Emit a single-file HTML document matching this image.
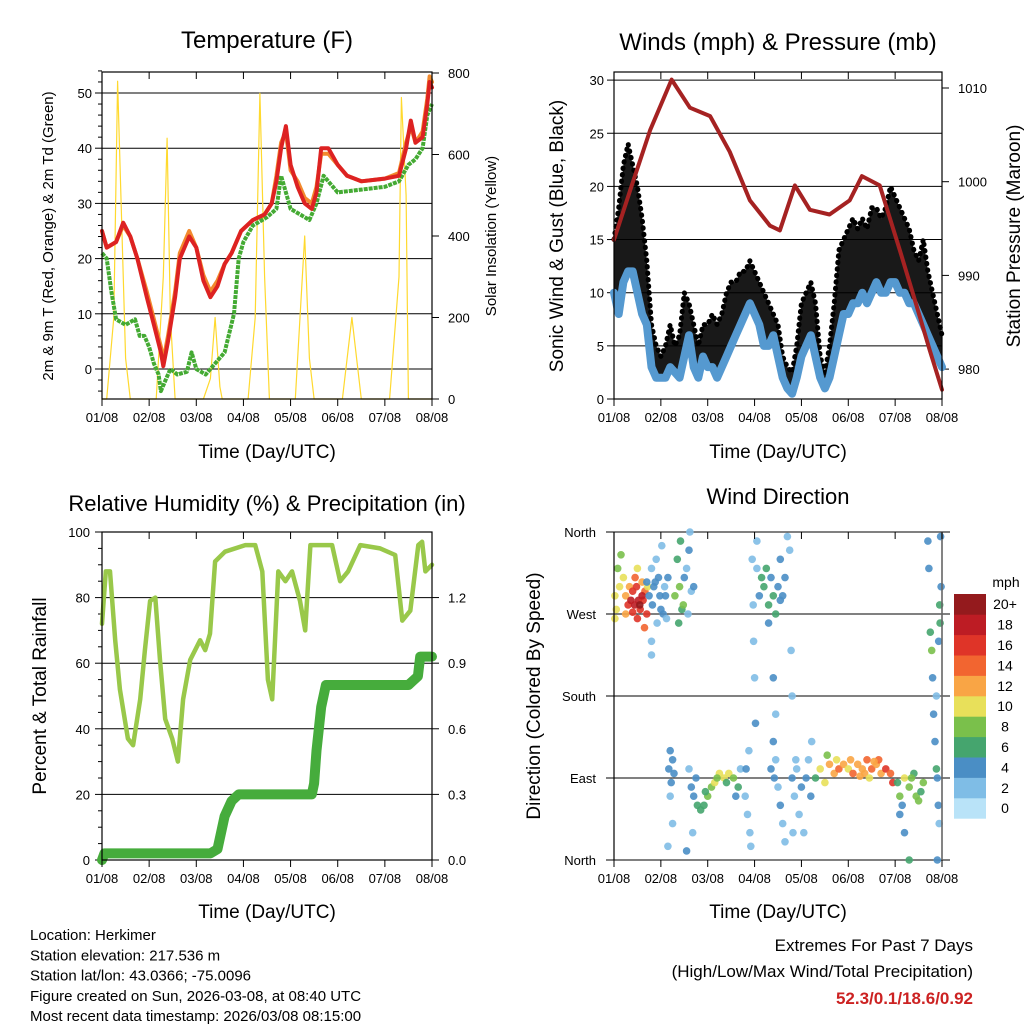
<!DOCTYPE html>
<html><head><meta charset="utf-8"><style>
body{margin:0;background:#fff}
svg{display:block;font-family:"Liberation Sans",sans-serif}
</style></head><body>
<svg id="c" width="1024" height="1024" viewBox="0 0 1024 1024" xmlns="http://www.w3.org/2000/svg"></svg>
<script>
// ---- Temperature panel data ----
const tempT=[0,0.1,0.3,0.45,0.6,0.75,0.95,1.1,1.25,1.3,1.4,1.55,1.65,1.85,2.0,2.15,2.3,2.45,2.6,2.75,2.95,3.2,3.45,3.6,3.7,3.8,3.9,4.0,4.15,4.3,4.45,4.55,4.65,4.8,5.0,5.2,5.5,6.0,6.3,6.45,6.55,6.65,6.8,6.9,6.95,7.0];
const tempRed=[25,22,23,26.5,24,20,13,8,3,0.5,5,13,20,24,22,16,13,15,19,21,25,27,28,30,34,40,44,37,33,30,29,32,40,40,37,35,34,34.5,35,40,45,41,42,48,52,51];
const tempOrange=[25,22,23,26,24,20,14,9,4,1.5,6,14,21,25,22,17,14,16,19,21,25,27,28,30,35,41,43,36,34,31,30,33,39,39,37,35,34,34.5,35.5,41,44,41,43,49,53,52];
const dewT=[0,0.1,0.2,0.3,0.5,0.7,0.8,0.9,1.0,1.1,1.2,1.25,1.35,1.45,1.6,1.8,1.9,2.0,2.2,2.4,2.6,2.8,2.9,3.0,3.2,3.5,3.7,3.8,3.9,4.0,4.2,4.4,4.55,4.7,5.0,5.5,6.0,6.3,6.5,6.65,6.8,6.9,7.0];
const dewV=[21,20,14,9,8,9,6,6,4,1,-1,-4,-2,0,-1,-0.5,3,0,-1,1,3,10,20,23,26,27.5,29,35,32,29,28,27,30,35,32,32.5,33,34,37,38,40,46,48];
const solarT=[0,0.1,0.25,0.33,0.4,0.5,0.6,1.15,1.3,1.38,1.45,1.55,2.15,2.3,2.4,2.5,2.55,3.1,3.25,3.35,3.45,3.55,4.1,4.3,4.4,4.5,5.1,5.3,5.4,5.5,6.1,6.3,6.35,6.45,6.5,7.0];
const solarV=[0,0,200,780,500,100,0,0,300,640,200,0,0,50,200,30,0,0,200,750,300,0,0,400,100,0,0,200,100,0,0,300,740,500,0,0];
const dayLabels=["01/08","02/08","03/08","04/08","05/08","06/08","07/08","08/08"];
const tempTicks=[0,10,20,30,40,50];
const solarTicks=[0,200,400,600,800];
// ---- Wind panel data ----
const windT=[0,0.1,0.2,0.3,0.4,0.5,0.6,0.7,0.8,0.9,1.0,1.1,1.2,1.3,1.4,1.5,1.6,1.7,1.8,1.9,2.0,2.1,2.2,2.3,2.4,2.5,2.6,2.7,2.8,2.9,3.0,3.1,3.2,3.3,3.4,3.5,3.6,3.7,3.8,3.9,4.0,4.1,4.2,4.3,4.4,4.5,4.6,4.7,4.8,4.9,5.0,5.1,5.2,5.3,5.4,5.5,5.6,5.7,5.8,5.9,6.0,6.1,6.2,6.3,6.4,6.5,6.6,6.7,6.8,6.9,7.0];
const windSpd=[10,8,11,12,12,10,8,7,3,2,2,2,3,2.5,2,4,6,3,2,4,3,3,2,3,4,5,6,7,8,9,8,7,5,5,6,4,2,1,0.5,2,4,5,6,4,2,1,2,4,6,8,8,9,9,10,9,10,11,10,10,11,11,10,10,9,9,8,7,6,5,4,3];
const windGust=[15,18,22,24,22,20,17,13,7,5,4,5,7,5,6,10,9,7,5,7,7,8,7,8,10,11,11,12,12,13,12,11,10,9,8,7,4,3,2.5,5,9,10,11,9,4,2.5,5,9,14,15,16,17,16,17,16,18,18,17,18,20,19,18,17,16,14,13,15,12,10,8,6];
const presT=[0,0.34,0.77,1.23,1.62,2.05,2.47,2.9,3.33,3.54,3.86,4.18,4.6,5.03,5.29,5.67,6.1,6.42,6.74,7.0];
const presV=[993.8,999,1005.5,1010.9,1007.9,1007,1003.2,998,995.3,994.8,999.6,997,996.5,998,1000.6,999.6,992.7,987.4,982,977.8];
const windTicks=[0,5,10,15,20,25,30];
const presTicks=[980,990,1000,1010];
// ---- RH / precip data ----
const rhT=[0,0.08,0.17,0.28,0.38,0.55,0.66,0.81,0.91,1.02,1.13,1.23,1.34,1.49,1.61,1.72,1.87,2.08,2.19,2.29,2.4,2.61,3.04,3.25,3.4,3.52,3.61,3.74,3.89,4.03,4.2,4.31,4.42,4.63,4.88,5.05,5.22,5.48,5.9,6.22,6.37,6.54,6.71,6.79,6.86,7.0];
const rhV=[72,88,88,67,52,37,35,49,64,79,80,61,43,37,30,49,61,67,64,69,91,94,96,96,88,55,49,88,85,88,79,70,96,96,96,85,88,96,95,93,73,76,96,97,88,90];
const precT=[0,0.05,2.3,2.45,2.6,2.75,2.9,4.45,4.5,4.55,4.65,4.75,6.5,6.6,6.7,6.75,7.0];
const precV=[0,0.03,0.03,0.05,0.2,0.27,0.3,0.3,0.35,0.5,0.7,0.8,0.8,0.82,0.84,0.93,0.93];
const rhTicks=[0,20,40,60,80,100];
const precTicks=[0,0.3,0.6,0.9,1.2];
// ---- wind direction data: [day, degrees, mph] ----
const dirObs=[[0.02,290,9],[0.05,275,10],[0.08,320,8],[0.12,300,9],[0.15,335,8],[0.2,310,10],[0.25,290,12],[0.3,280,15],[0.33,300,12],[0.36,285,17],[0.4,295,16],[0.44,280,18],[0.48,300,15],[0.52,285,17],[0.56,275,16],[0.6,305,12],[0.62,285,16],[0.66,295,13],[0.7,270,15],[0.72,300,10],[0.02,265,10],[0.45,310,14],[0.5,320,10],[0.25,270,12],[0.55,280,19],[0.5,265,16],[0.6,290,18],[0.4,272,16],[0.65,255,14],
[0.7,305,4],[0.75,290,3],[0.8,320,2],[0.82,280,3],[0.85,300,4],[0.9,330,2],[0.92,260,2],[0.95,310,3],[0.98,290,4],[0.8,240,1],[0.8,225,1],[1.02,345,2],[1.05,270,3],[1.08,300,2],[1.12,265,2],[1.15,310,3],[0.88,305,4],[1.0,275,3],[1.1,290,4],
[1.3,290,7],[1.35,330,6],[1.4,300,7],[1.42,350,6],[1.45,275,6],[1.5,310,4],[1.55,320,2],[1.6,340,3],[1.65,295,2],[1.62,360,1],[1.38,260,6],[1.48,280,8],[1.58,270,2],[1.7,300,3],
[1.17,100,4],[1.2,120,4],[1.22,85,4],[1.25,110,4],[1.2,70,2],[1.15,15,1],[1.25,40,2],[1.28,95,4],
[1.6,100,2],[1.65,80,4],[1.7,70,4],[1.78,60,6],[1.85,55,6],[1.92,60,6],[2.0,70,8],[2.08,80,8],[2.15,85,10],[2.25,95,10],[2.35,90,9],[2.45,95,10],[2.55,90,8],[2.65,80,6],[2.7,100,2],[1.75,90,4],[1.95,75,6],[2.2,90,8],[2.4,85,6],[1.68,30,2],[1.55,10,4],[2.6,70,4],
[2.8,70,2],[2.85,50,2],[2.9,30,2],[2.92,15,1],[2.82,100,3],[2.88,120,1],
[2.95,330,1],[2.97,280,2],[2.98,240,1],[3.0,200,1],[3.02,150,4],[3.05,320,2],[3.1,290,4],[3.2,300,6],[3.25,320,6],[3.3,280,5],[3.35,310,4],[3.4,290,6],[3.45,270,5],[3.5,300,4],[3.55,330,4],[3.6,290,4],[3.65,310,3],[3.05,350,1],[3.4,200,3],[3.45,160,2],[3.75,340,2],[3.78,230,2],[3.8,180,2],[3.3,260,4],[3.7,355,1],[3.55,285,4],[3.15,310,6],
[3.35,100,4],[3.4,130,3],[3.45,110,2],[3.5,80,2],[3.55,60,3],[3.6,40,2],[3.65,20,1],[3.42,90,4],
[3.8,90,4],[3.85,70,2],[3.9,100,2],[3.95,50,2],[4.0,80,3],[4.05,30,2],[4.1,90,4],[4.15,110,2],[4.2,70,3],[4.22,130,2],[3.82,30,1],[3.88,110,2],
[4.3,90,6],[4.4,100,10],[4.5,85,9],[4.6,105,11],[4.7,95,12],[4.8,100,14],[4.9,105,12],[5.0,100,10],[5.1,95,13],[5.2,105,12],[5.3,100,12],[5.4,110,14],[5.5,100,13],[5.6,105,11],[5.7,95,12],[5.8,100,15],[5.9,95,14],[4.55,115,8],[4.75,110,10],[5.05,110,11],[5.35,95,12],[5.65,110,13],[5.45,90,10],[5.25,92,12],[5.55,108,12],[5.95,85,16],
[6.05,85,6],[6.1,70,8],[6.15,60,4],[6.2,90,9],[6.3,80,8],[6.4,95,6],[6.45,70,7],[6.55,75,6],[6.6,85,8],[6.1,50,4],[6.2,30,4],[6.3,0,6],[6.35,90,8],[6.5,65,8],
[6.7,350,4],[6.72,320,4],[6.75,250,6],[6.78,230,8],[6.8,200,4],[6.82,160,4],[6.85,130,4],[6.88,100,6],[6.9,90,4],[6.92,60,4],[6.94,40,2],[6.95,280,6],[6.96,260,6],[6.98,300,4],[6.97,355,4],[6.9,0,4],[6.93,240,4],[6.88,180,2]];
const dirLabels=["North","East","South","West","North"];
const dirTicks=[0,90,180,270,360];
const speedLabels=["0","2","4","6","8","10","12","14","16","18","20+"];
const speedColors=["#b9e3f8","#7fbde6","#4a8ec5","#45a56e","#7ac04b","#e8e05a","#f9a545","#f26530","#df3428","#bd1c24","#941a1d"];

const S=document.getElementById('c');const NS="http://www.w3.org/2000/svg";
function mk(tag,attrs,name,parent){const e=document.createElementNS(NS,tag);for(const k in attrs)e.setAttribute(k,attrs[k]);


(parent||S).appendChild(e);return e;}
function txt(x,y,s,size,anchor,name,extra){const e=mk('text',Object.assign({x:x,y:y,'font-size':size,'text-anchor':anchor||'middle',fill:'#000'},extra||{}),name);e.textContent=s;return e;}
function vtxt(x,y,s,size,name){const e=mk('text',{x:0,y:0,'font-size':size,'text-anchor':'middle',transform:`translate(${x},${y}) rotate(-90)`},name);e.textContent=s;return e;}
function line(x1,y1,x2,y2,name,w,col){return mk('line',{x1,y1,x2,y2,stroke:col||'#000','stroke-width':w||1},name);}
function pl(ts,vs,fx,fy,name,col,w,extra){const p=ts.map((t,i)=>fx(t).toFixed(1)+','+fy(vs[i]).toFixed(1)).join(' ');return mk('polyline',Object.assign({points:p,fill:'none',stroke:col,'stroke-width':w,'stroke-linejoin':'round','stroke-linecap':'round'},extra||{}),name);}

function xAxis(x0,x1,yb,ytop,prefix){const fx=t=>x0+(x1-x0)*t/7;
 for(let i=0;i<8;i++){const x=fx(i);line(x,yb,x,yb+7,prefix+'-x-tick');line(x,ytop,x,ytop+7,prefix+'-x-tick-top');txt(x,yb+23,dayLabels[i],13,'middle',prefix+'-x-tick-label');}
 return fx;}
function frame(x0,y0,x1,y1,name){mk('rect',{x:x0,y:y0,width:x1-x0,height:y1-y0,fill:'none',stroke:'#000','stroke-width':1.2},name);}

// ===== Panel 1: Temperature =====
{const x0=102,x1=432,y0=72,y1=399;const fx=t=>x0+(x1-x0)*t/7;const fy=v=>369-v*5.52;const fs=v=>399-v*0.4075;
 for(const v of tempTicks){line(x0,fy(v),x1,fy(v),'temp-gridline',1,'#000');line(x0-7,fy(v),x0,fy(v),'temp-y-tick');txt(x0-10,fy(v)+5,String(v),13,'end','temp-y-tick-label');}
 for(let v=-4;v<=54;v+=2){if(v%10)line(x0-4,fy(v),x0,fy(v),'temp-y-minor-tick');}
 for(const v of solarTicks){line(x1,fs(v),x1+7,fs(v),'solar-y-tick');txt(x1+16,fs(v)+5,String(v),13,'start','solar-y-tick-label');}
 pl(solarT,solarV,fx,fs,'solar-insolation-line','#ffd92e',1.2);
 pl(dewT,dewV,fx,fy,'dewpoint-2m-line','#44aa33',4,{'stroke-dasharray':'4 1','stroke-linecap':'butt'});
 pl(tempT,tempOrange,fx,fy,'temp-9m-line','#f28a2e',4);
 pl(tempT,tempRed,fx,fy,'temp-2m-line','#dd2222',4);
 frame(x0,y0,x1,y1,'temp-plot-frame');xAxis(x0,x1,y1,y0,'temp');
 txt(267,48,'Temperature (F)',24,'middle','temp-title');
 txt(267,458,'Time (Day/UTC)',19,'middle','temp-x-axis-title');
 vtxt(53,236,'2m & 9m T (Red, Orange) & 2m Td (Green)',15,'temp-y-axis-title');
 vtxt(496,236,'Solar Insolation (Yellow)',15,'solar-y-axis-title');}

// ===== Panel 2: Winds =====
{const x0=614,x1=942,y0=72,y1=399;const fx=t=>x0+(x1-x0)*t/7;const fy=v=>399-v*10.63;const fp=p=>88+(1010-p)*9.37;
 for(const v of windTicks){if(v>0)line(x0,fy(v),x1,fy(v),'wind-gridline');line(x0-7,fy(v),x0,fy(v),'wind-y-tick');txt(x0-10,fy(v)+5,String(v),13,'end','wind-y-tick-label');}
 for(const p of presTicks){line(x1,fp(p),x1+7,fp(p),'pressure-y-tick');txt(x1+16,fp(p)+5,String(p),13,'start','pressure-y-tick-label');}
 const top=windT.map((t,i)=>fx(t).toFixed(1)+','+fy(windGust[i]).toFixed(1));const bot=windT.map((t,i)=>fx(t).toFixed(1)+','+fy(windSpd[i]).toFixed(1)).reverse();
 mk('polygon',{points:top.concat(bot).join(' '),fill:'#000','fill-opacity':0.9},'gust-scatter-area');
 pl(windT,windGust,fx,fy,'gust-dots','#000',5,{'stroke-dasharray':'0.5 6'});
 pl(windT,windSpd,fx,fy,'sonic-wind-line','#5599d0',8);
 pl(presT,presV,fx,fp,'pressure-line','#a52222',4);
 frame(x0,y0,x1,y1,'wind-plot-frame');xAxis(x0,x1,y1,y0,'wind');
 txt(778,50,'Winds (mph) & Pressure (mb)',24,'middle','wind-title');
 txt(778,458,'Time (Day/UTC)',19,'middle','wind-x-axis-title');
 vtxt(563,236,'Sonic Wind & Gust (Blue, Black)',19,'wind-y-axis-title');
 vtxt(1020,236,'Station Pressure (Maroon)',19,'pressure-y-axis-title');}

// ===== Panel 3: RH & Precip =====
{const x0=102,x1=432,y0=532,y1=860;const fx=t=>x0+(x1-x0)*t/7;const fy=v=>860-v*3.28;const fp=p=>860-p*218.7;
 for(const v of rhTicks){if(v>0&&v<100)line(x0,fy(v),x1,fy(v),'rh-gridline');line(x0-7,fy(v),x0,fy(v),'rh-y-tick');txt(x0-12,fy(v)+5,String(v),13,'end','rh-y-tick-label');}
 for(let v=5;v<100;v+=5){if(v%20)line(x0-4,fy(v),x0,fy(v),'rh-y-minor-tick');}
 for(const p of precTicks){line(x1,fp(p),x1+7,fp(p),'precip-y-tick');txt(x1+16,fp(p)+5,p.toFixed(1),13,'start','precip-y-tick-label');}
 pl(rhT,rhV,fx,fy,'relative-humidity-line','#99c84a',4.5);
 pl(precT,precV,fx,fp,'total-precip-line','#46ac3c',10);
 frame(x0,y0,x1,y1,'rh-plot-frame');xAxis(x0,x1,y1,y0,'rh');
 txt(267,511,'Relative Humidity (%) & Precipitation (in)',22,'middle','rh-title');
 txt(267,918,'Time (Day/UTC)',19,'middle','rh-x-axis-title');
 vtxt(46,696,'Percent & Total Rainfall',19,'rh-y-axis-title');}

// ===== Panel 4: Wind direction =====
{const x0=614,x1=942,y0=532,y1=860;const fx=t=>x0+(x1-x0)*t/7;const fy=d=>860-d*328/360;
 dirTicks.forEach((d,i)=>{line(x0-8,fy(d),x1+8,fy(d),'direction-gridline');txt(x0-18,fy(d)+5,dirLabels[i],13,'end','direction-y-tick-label');});
 const idx=s=>Math.min(10,Math.max(0,Math.floor((s+1)/2)));
 for(const o of dirObs){mk('circle',{cx:fx(o[0]).toFixed(1),cy:fy(o[1]).toFixed(1),r:3.8,fill:speedColors[idx(o[2])],'fill-opacity':0.9},'direction-point');}
 line(x0,y0,x0,y1,'direction-left-axis',1.2);line(x1,y0,x1,y1,'direction-right-axis',1.6,'#666');
 xAxis(x0,x1,y1,y0,'direction');
 txt(778,504,'Wind Direction',22,'middle','direction-title');
 txt(778,918,'Time (Day/UTC)',19,'middle','direction-x-axis-title');
 vtxt(540,696,'Direction (Colored By Speed)',19,'direction-y-axis-title');
 txt(1006,587,'mph',14,'middle','colorbar-unit-label');
 const h=20.4;for(let i=0;i<11;i++){const y=594+(10-i)*h;mk('rect',{x:954,y:y.toFixed(1),width:32,height:(h+0.3).toFixed(1),fill:speedColors[i]},'colorbar-box');txt(1005,y+h/2+5,speedLabels[i],14,'middle','colorbar-label');}}

// ===== Footer =====
['Location: Herkimer','Station elevation: 217.536 m','Station lat/lon: 43.0366; -75.0096','Figure created on Sun, 2026-03-08, at 08:40 UTC','Most recent data timestamp: 2026/03/08 08:15:00'].forEach((s,i)=>txt(30,940+i*20.3,s,15,'start','station-info-line'));
txt(973,951,'Extremes For Past 7 Days',17,'end','extremes-heading');
txt(973,977,'(High/Low/Max Wind/Total Precipitation)',17,'end','extremes-subheading');
txt(973,1004,'52.3/0.1/18.6/0.92',17,'end','extremes-values',{fill:'#cc2222','font-weight':'bold'});
</script>
</body></html>
